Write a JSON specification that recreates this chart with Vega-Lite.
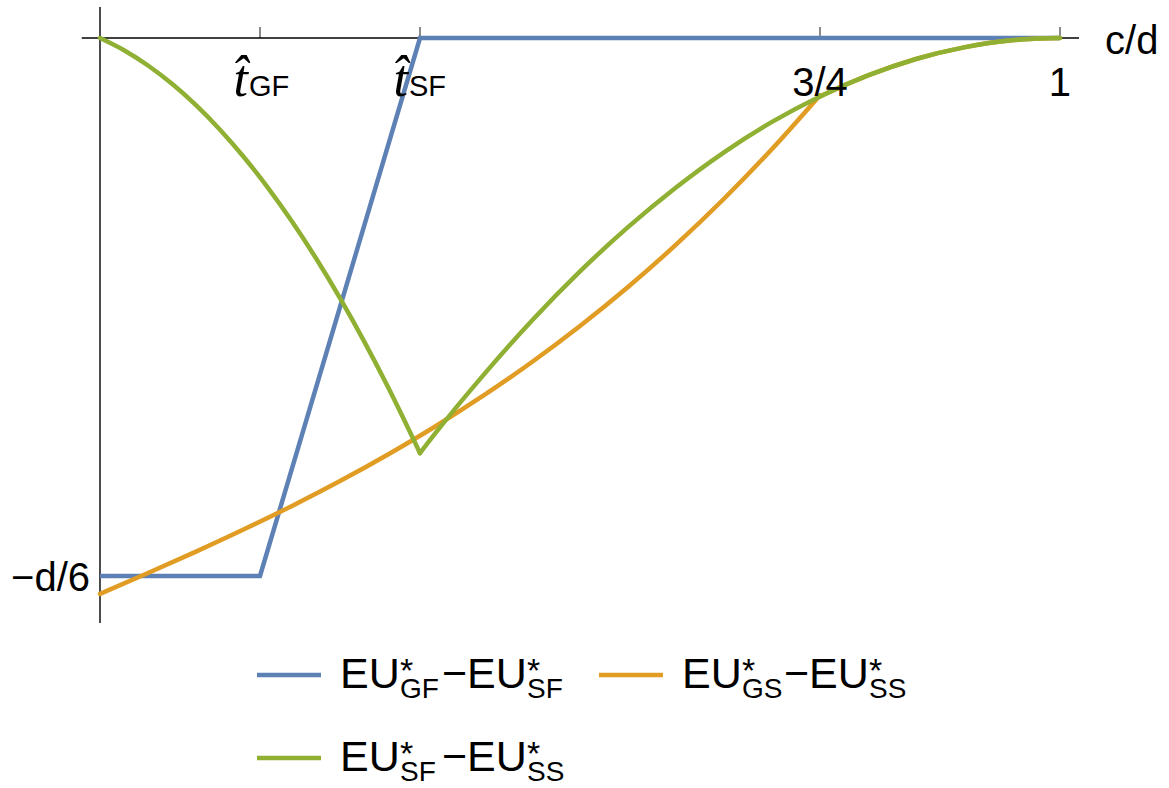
{
  "$schema": "https://vega.github.io/schema/vega-lite/v6.json",
  "width": 1169,
  "height": 788,
  "autosize": {"type": "fit", "contains": "padding"},
  "padding": 0,
  "background": "white",
  "config": {"view": {"stroke": null}, "font": "Liberation Sans"},
  "datasets": {
    "curves": [
      {"series": "GF-SF", "seg": 1, "c": 0, "v": -0.16667},
      {"series": "GF-SF", "seg": 1, "c": 0.16667, "v": -0.16667},
      {"series": "GF-SF", "seg": 1, "c": 0.33333, "v": 0},
      {"series": "GF-SF", "seg": 1, "c": 1, "v": 0},

      {"series": "GS-SS", "seg": 1, "c": 0, "v": -0.1722},
      {"series": "GS-SS", "seg": 1, "c": 0.05, "v": -0.16575},
      {"series": "GS-SS", "seg": 1, "c": 0.1, "v": -0.15912},
      {"series": "GS-SS", "seg": 1, "c": 0.15, "v": -0.15221},
      {"series": "GS-SS", "seg": 1, "c": 0.2, "v": -0.14495},
      {"series": "GS-SS", "seg": 1, "c": 0.25, "v": -0.13725},
      {"series": "GS-SS", "seg": 1, "c": 0.3, "v": -0.12902},
      {"series": "GS-SS", "seg": 1, "c": 0.35, "v": -0.12019},
      {"series": "GS-SS", "seg": 1, "c": 0.4, "v": -0.11067},
      {"series": "GS-SS", "seg": 1, "c": 0.45, "v": -0.10038},
      {"series": "GS-SS", "seg": 1, "c": 0.5, "v": -0.08923},
      {"series": "GS-SS", "seg": 1, "c": 0.55, "v": -0.07714},
      {"series": "GS-SS", "seg": 1, "c": 0.6, "v": -0.06402},
      {"series": "GS-SS", "seg": 1, "c": 0.65, "v": -0.0498},
      {"series": "GS-SS", "seg": 1, "c": 0.7, "v": -0.03439},
      {"series": "GS-SS", "seg": 1, "c": 0.75, "v": -0.0177},
      {"series": "GS-SS", "seg": 2, "c": 0.75, "v": -0.0181},
      {"series": "GS-SS", "seg": 2, "c": 0.8, "v": -0.0116},
      {"series": "GS-SS", "seg": 2, "c": 0.85, "v": -0.0065},
      {"series": "GS-SS", "seg": 2, "c": 0.9, "v": -0.0029},
      {"series": "GS-SS", "seg": 2, "c": 0.95, "v": -0.0007},
      {"series": "GS-SS", "seg": 2, "c": 1, "v": 0},

      {"series": "SF-SS", "seg": 1, "c": 0, "v": 0},
      {"series": "SF-SS", "seg": 1, "c": 0.025, "v": -0.00378},
      {"series": "SF-SS", "seg": 1, "c": 0.05, "v": -0.00851},
      {"series": "SF-SS", "seg": 1, "c": 0.075, "v": -0.01419},
      {"series": "SF-SS", "seg": 1, "c": 0.1, "v": -0.02082},
      {"series": "SF-SS", "seg": 1, "c": 0.125, "v": -0.02841},
      {"series": "SF-SS", "seg": 1, "c": 0.15, "v": -0.03694},
      {"series": "SF-SS", "seg": 1, "c": 0.175, "v": -0.04643},
      {"series": "SF-SS", "seg": 1, "c": 0.2, "v": -0.05686},
      {"series": "SF-SS", "seg": 1, "c": 0.225, "v": -0.06825},
      {"series": "SF-SS", "seg": 1, "c": 0.25, "v": -0.08059},
      {"series": "SF-SS", "seg": 1, "c": 0.275, "v": -0.09389},
      {"series": "SF-SS", "seg": 1, "c": 0.3, "v": -0.10813},
      {"series": "SF-SS", "seg": 1, "c": 0.33333, "v": -0.1286},
      {"series": "SF-SS", "seg": 2, "c": 0.33333, "v": -0.1286},
      {"series": "SF-SS", "seg": 2, "c": 0.35, "v": -0.1222},
      {"series": "SF-SS", "seg": 2, "c": 0.4, "v": -0.1042},
      {"series": "SF-SS", "seg": 2, "c": 0.45, "v": -0.0875},
      {"series": "SF-SS", "seg": 2, "c": 0.5, "v": -0.0723},
      {"series": "SF-SS", "seg": 2, "c": 0.55, "v": -0.0586},
      {"series": "SF-SS", "seg": 2, "c": 0.6, "v": -0.0463},
      {"series": "SF-SS", "seg": 2, "c": 0.65, "v": -0.0354},
      {"series": "SF-SS", "seg": 2, "c": 0.7, "v": -0.026},
      {"series": "SF-SS", "seg": 2, "c": 0.75, "v": -0.0181},
      {"series": "SF-SS", "seg": 2, "c": 0.8, "v": -0.0116},
      {"series": "SF-SS", "seg": 2, "c": 0.85, "v": -0.0065},
      {"series": "SF-SS", "seg": 2, "c": 0.9, "v": -0.0029},
      {"series": "SF-SS", "seg": 2, "c": 0.95, "v": -0.0007},
      {"series": "SF-SS", "seg": 2, "c": 1, "v": 0}
    ],
    "axes": [
      {"c": -0.019, "c2": 1.0198, "v": 0, "v2": 0},
      {"c": 0, "c2": 0, "v": 0.0096, "v2": -0.1812}
    ],
    "xticks": [
      {"c": 0.16667, "v": 0, "label": "", "sub": "GF"},
      {"c": 0.33333, "v": 0, "label": "", "sub": "SF"},
      {"c": 0.75, "v": 0, "label": "3/4", "sub": ""},
      {"c": 1, "v": 0, "label": "1", "sub": ""}
    ],
    "yticks": [
      {"c": 0, "v": -0.16667, "label": "−d/6"}
    ],
    "axistitle": [
      {"c": 1.0469, "v": -0.005, "label": "c/d"}
    ],
    "legend": [
      {"series": "GF-SF", "c": 0.16354, "c2": 0.23021, "v": -0.19733, "sub1": "GF", "sub2": "SF"},
      {"series": "GS-SS", "c": 0.51979, "c2": 0.58646, "v": -0.19733, "sub1": "GS", "sub2": "SS"},
      {"series": "SF-SS", "c": 0.16354, "c2": 0.23021, "v": -0.22305, "sub1": "SF", "sub2": "SS"}
    ]
  },
  "encoding": {
    "x": {"field": "c", "type": "quantitative", "axis": null,
          "scale": {"domain": [-0.104167, 1.113542], "nice": false, "zero": false}},
    "y": {"field": "v", "type": "quantitative", "axis": null,
          "scale": {"domain": [-0.232342, 0.011772], "nice": false, "zero": false}}
  },
  "layer": [
    {
      "data": {"name": "axes"},
      "mark": {"type": "rule", "color": "#000000", "strokeWidth": 1.4},
      "encoding": {
        "x2": {"field": "c2"},
        "y2": {"field": "v2"}
      }
    },
    {
      "data": {"name": "xticks"},
      "mark": {"type": "tick", "orient": "vertical", "color": "#000000", "size": 11, "thickness": 1.3, "yOffset": -5.5},
      "encoding": {}
    },
    {
      "data": {"name": "yticks"},
      "mark": {"type": "tick", "orient": "horizontal", "color": "#000000", "size": 12, "thickness": 1.3, "xOffset": 6},
      "encoding": {}
    },
    {
      "data": {"name": "curves"},
      "transform": [{"filter": "datum.series === 'GF-SF'"}],
      "mark": {"type": "line", "strokeWidth": 4.5, "interpolate": "linear", "strokeJoin": "miter"},
      "encoding": {
        "color": {"field": "series", "type": "nominal", "legend": null,
                  "scale": {"domain": ["GF-SF", "GS-SS", "SF-SS"], "range": ["#5E81B5", "#E19C24", "#8FB032"]}},
        "order": {"field": "c"}
      }
    },
    {
      "data": {"name": "curves"},
      "transform": [{"filter": "datum.series === 'GS-SS'"}],
      "mark": {"type": "line", "strokeWidth": 4.5, "interpolate": "monotone", "strokeCap": "round"},
      "encoding": {
        "color": {"field": "series", "type": "nominal", "legend": null},
        "detail": {"field": "seg", "type": "nominal"},
        "order": {"field": "c"}
      }
    },
    {
      "data": {"name": "curves"},
      "transform": [{"filter": "datum.series === 'SF-SS'"}],
      "mark": {"type": "line", "strokeWidth": 4.5, "interpolate": "monotone", "strokeCap": "round"},
      "encoding": {
        "color": {"field": "series", "type": "nominal", "legend": null},
        "detail": {"field": "seg", "type": "nominal"},
        "order": {"field": "c"}
      }
    },
    {
      "data": {"name": "xticks"},
      "mark": {"type": "text", "fontSize": 40, "align": "center", "baseline": "alphabetic", "dy": 58, "color": "#000000"},
      "encoding": {"text": {"field": "label"}}
    },
    {
      "data": {"name": "xticks"},
      "transform": [{"filter": "datum.sub !== ''"}],
      "mark": {"type": "text", "text": "t̂", "font": "Liberation Serif", "fontStyle": "italic", "fontSize": 52,
               "align": "right", "baseline": "alphabetic", "dx": -12, "dy": 58, "color": "#000000"},
      "encoding": {}
    },
    {
      "data": {"name": "xticks"},
      "transform": [{"filter": "datum.sub !== ''"}],
      "mark": {"type": "text", "fontSize": 29, "align": "left", "baseline": "alphabetic", "dx": -11, "dy": 58, "color": "#000000"},
      "encoding": {"text": {"field": "sub"}}
    },
    {
      "data": {"name": "yticks"},
      "mark": {"type": "text", "fontSize": 40, "align": "right", "baseline": "alphabetic", "dx": -10, "dy": 15, "color": "#000000"},
      "encoding": {"text": {"field": "label"}}
    },
    {
      "data": {"name": "axistitle"},
      "mark": {"type": "text", "fontSize": 40, "align": "left", "baseline": "alphabetic", "color": "#000000"},
      "encoding": {"text": {"field": "label"}}
    },
    {
      "data": {"name": "legend"},
      "mark": {"type": "rule", "strokeWidth": 4.5},
      "encoding": {
        "x2": {"field": "c2"},
        "color": {"field": "series", "type": "nominal", "legend": null}
      }
    },
    {
      "data": {"name": "legend"},
      "mark": {"type": "text", "text": "EU", "fontSize": 43, "align": "left", "baseline": "alphabetic", "dx": 19, "dy": 13, "color": "#000000"},
      "encoding": {"x": {"field": "c2", "type": "quantitative"}}
    },
    {
      "data": {"name": "legend"},
      "mark": {"type": "text", "text": "*", "fontSize": 34, "align": "left", "baseline": "alphabetic", "dx": 79, "dy": 7, "color": "#000000"},
      "encoding": {"x": {"field": "c2", "type": "quantitative"}}
    },
    {
      "data": {"name": "legend"},
      "mark": {"type": "text", "fontSize": 28, "align": "left", "baseline": "alphabetic", "dx": 79, "dy": 23, "color": "#000000"},
      "encoding": {"x": {"field": "c2", "type": "quantitative"}, "text": {"field": "sub1"}}
    },
    {
      "data": {"name": "legend"},
      "mark": {"type": "text", "text": "−EU", "fontSize": 43, "align": "left", "baseline": "alphabetic", "dx": 121, "dy": 13, "color": "#000000"},
      "encoding": {"x": {"field": "c2", "type": "quantitative"}}
    },
    {
      "data": {"name": "legend"},
      "mark": {"type": "text", "text": "*", "fontSize": 34, "align": "left", "baseline": "alphabetic", "dx": 206, "dy": 7, "color": "#000000"},
      "encoding": {"x": {"field": "c2", "type": "quantitative"}}
    },
    {
      "data": {"name": "legend"},
      "mark": {"type": "text", "fontSize": 28, "align": "left", "baseline": "alphabetic", "dx": 206, "dy": 23, "color": "#000000"},
      "encoding": {"x": {"field": "c2", "type": "quantitative"}, "text": {"field": "sub2"}}
    }
  ]
}
